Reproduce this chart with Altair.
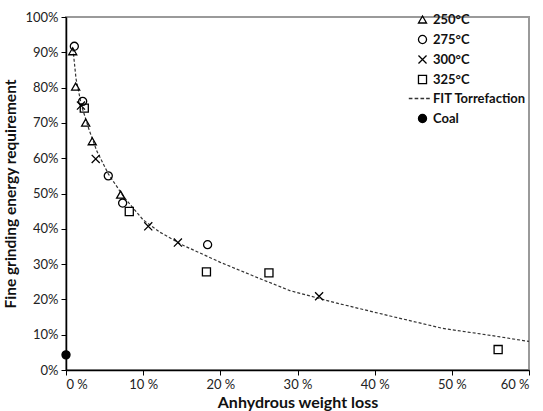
import altair as alt
import pandas as pd

series_names = ["250°C", "275°C", "300°C", "325°C", "FIT Torrefaction", "Coal"]

x_250 = [0.87, 1.25, 2.55, 3.4, 7.08]
y_250 = [90.3, 80.3, 70.1, 64.8, 49.7]
x_275 = [1.08, 2.16, 5.48, 7.34, 18.35]
y_275 = [91.7, 76.1, 55.0, 47.3, 35.5]
x_300 = [1.94, 3.85, 10.66, 14.5, 32.8]
y_300 = [74.9, 59.8, 40.7, 36.1, 20.9]
x_325 = [2.37, 8.2, 18.2, 26.3, 56.0]
y_325 = [74.2, 44.9, 27.8, 27.5, 5.8]
x_coal = [0.0]
y_coal = [4.3]

fit_x = [0.9, 1.3, 2, 3, 4, 5.5, 7.5, 10, 12.2, 15, 20, 25, 29, 35, 42, 48.8, 55, 60]
fit_y = [91, 82.5, 75, 68, 62, 55.5, 49, 42.5, 39, 35.5, 30.5, 26, 22.5, 19, 15.3, 11.8, 9.8, 8.1]

x_ticks = [0, 10, 20, 30, 40, 50, 60]
y_ticks = [0, 10, 20, 30, 40, 50, 60, 70, 80, 90, 100]

rows = []
for name, xs_, ys_ in [("250°C", x_250, y_250), ("275°C", x_275, y_275),
                       ("300°C", x_300, y_300), ("325°C", x_325, y_325),
                       ("Coal", x_coal, y_coal)]:
    for a, b in zip(xs_, ys_):
        rows.append({"series": name, "x": a, "y": b})
pts = pd.DataFrame(rows)
fit = pd.DataFrame({"x": fit_x, "y": fit_y})

FONT = "Lato"
dash_path = "M-3.4,0H-2.5M-1.95,0H-1.05M-0.5,0H0.4M0.9,0H1.8"
shape_range = ["triangle-up", "circle", "M-1,-1L1,1M-1,1L1,-1", "square", dash_path, "circle"]
fill_range = ["transparent", "transparent", "transparent", "transparent", "transparent", "black"]
stroke_range = ["black", "black", "black", "black", "#333", "black"]

xscale = alt.Scale(domain=[0, 60], nice=False)
yscale = alt.Scale(domain=[0, 100], nice=False)

xaxis = alt.Axis(values=x_ticks, labelExpr="datum.value + ' %'", title="Anhydrous weight loss",
                 grid=False, tickSize=5, domainColor="black", tickColor="black", domainWidth=1.5,
                 labelFont=FONT, labelFontSize=13, labelColor="#222", labelPadding=3,
                 titleFont=FONT, titleFontSize=16, titleFontWeight="bold", titleColor="#111",
                 titlePadding=3)
yaxis = alt.Axis(values=y_ticks, labelExpr="datum.value + '%'", title="Fine grinding energy requirement",
                 grid=False, tickSize=5, domainColor="black", tickColor="black", domainWidth=1.5,
                 labelFont=FONT, labelFontSize=13, labelColor="#222", labelPadding=3,
                 titleFont=FONT, titleFontSize=15.5, titleFontWeight="bold", titleColor="#111",
                 titlePadding=6)

leg = alt.Legend(title=None, orient="none", legendX=350, legendY=-4, symbolSize=65,
                 labelFont=FONT, labelFontWeight="bold", labelFontSize=13, labelColor="#111",
                 rowPadding=5, labelOffset=4, padding=0, symbolStrokeWidth=1.3)

line = alt.Chart(fit).mark_line(color="#333", strokeWidth=1.2, strokeDash=[3, 2]).encode(
    x=alt.X("x:Q", scale=xscale, axis=xaxis),
    y=alt.Y("y:Q", scale=yscale, axis=yaxis),
)

points = alt.Chart(pts).mark_point(size=65, strokeWidth=1.3, filled=True, opacity=1).encode(
    x=alt.X("x:Q", scale=xscale, axis=xaxis),
    y=alt.Y("y:Q", scale=yscale, axis=yaxis),
    shape=alt.Shape("series:N", scale=alt.Scale(domain=series_names, range=shape_range), legend=leg),
    fill=alt.Fill("series:N", scale=alt.Scale(domain=series_names, range=fill_range), legend=leg),
    stroke=alt.Stroke("series:N", scale=alt.Scale(domain=series_names, range=stroke_range), legend=leg),
)

chart = alt.layer(line, points).properties(
    width=463, height=353,
    autosize=alt.AutoSizeParams(type="none"),
    padding={"left": 66, "top": 17, "right": 14, "bottom": 41},
    background="white",
).configure_view(stroke="#9a9a9a", strokeWidth=2)

chart.save("out.html", embed_options={"renderer": "svg", "actions": False})
